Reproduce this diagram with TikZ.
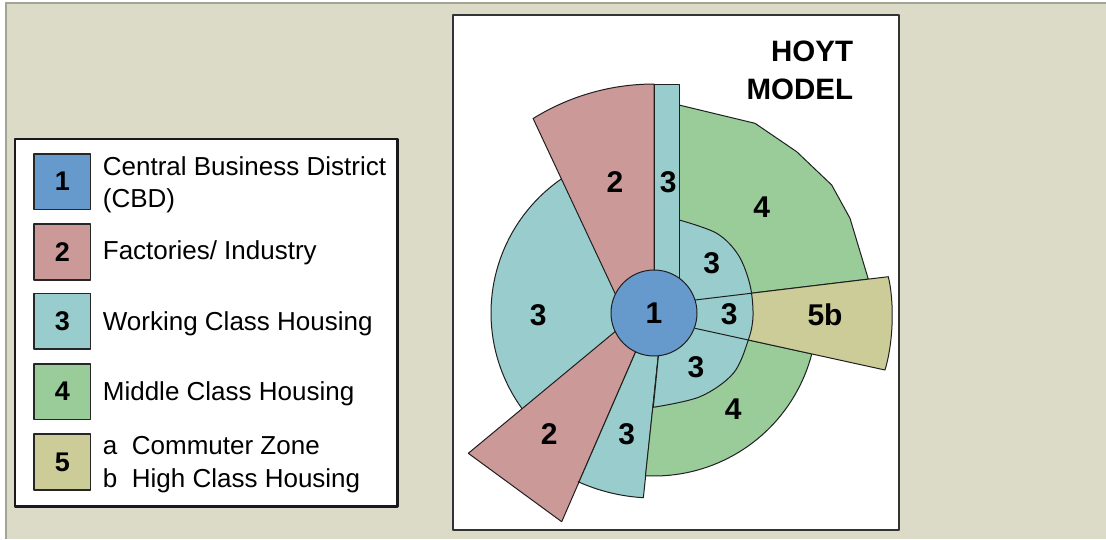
\documentclass[tikz,border=0pt]{standalone}
\usepackage{fontspec}
\setmainfont{Liberation Sans}
\begin{document}
\begin{tikzpicture}[x=1pt,y=-1pt,line join=round]
\definecolor{bg}{HTML}{DBDBC7}
\definecolor{edgegray}{HTML}{A4A494}
\definecolor{cbd}{HTML}{6699CC}
\definecolor{ind}{HTML}{CC9999}
\definecolor{wch}{HTML}{99CCCC}
\definecolor{mch}{HTML}{99CC99}
\definecolor{hch}{HTML}{CCCC99}
\tikzset{
  zone/.style={draw=black!88,line width=1pt},
  num/.style={font=\fontsize{30}{30}\selectfont\bfseries,inner sep=0pt},
  legsq/.style={draw=black!85,line width=1.6pt,minimum width=56.7pt,minimum height=55.5pt,inner sep=0pt,font=\fontsize{27}{27}\selectfont\bfseries},
  legtxt/.style={anchor=base west,inner sep=0pt,font=\fontsize{26}{26}\selectfont},
  ttl/.style={anchor=base east,inner sep=0pt,font=\fontsize{29.5}{29.5}\selectfont\bfseries}
}
\useasboundingbox (0,0) rectangle (1106,539);
% background
\fill[white] (0,0) rectangle (1106,539);
\fill[bg] (5,2) rectangle (1106,539);
\draw[edgegray,line width=1.6pt] (5.8,539) -- (5.8,2.8) -- (1106,2.8);
% legend
\draw[fill=white,draw=black!90,line width=2.6pt] (15,139) rectangle (397.3,506.7);
\node[legsq,fill=cbd] (k1) at (62.3,181.7) {1};
\node[legsq,fill=ind] (k2) at (62.3,252) {2};
\node[legsq,fill=wch] (k3) at (62.3,321.2) {3};
\node[legsq,fill=mch] (k4) at (62.3,391.7) {4};
\node[legsq,fill=hch] (k5) at (62.3,462) {5};
\node[legtxt] (t1a) at (102.7,175.7) {Central Business District};
\node[legtxt] (t1b) at (102.7,207.5) {(CBD)};
\node[legtxt] (t2) at (102.7,259) {Factories/ Industry};
\node[legtxt] (t3) at (102.7,330) {Working Class Housing};
\node[legtxt] (t4) at (102.7,400.7) {Middle Class Housing};
\node[legtxt] (t5a) at (102.7,454) {\makebox[29pt][l]{a}Commuter Zone};
\node[legtxt] (t5b) at (102.7,487.3) {\makebox[29pt][l]{b}High Class Housing};
% panel
\draw[fill=white,draw=black!80,line width=1.6pt] (453,15) rectangle (899,530);
\node[ttl] (hoyt) at (853.3,61.7) {HOYT};
\node[ttl] (model) at (853.3,99.3) {MODEL};
% zones
\filldraw[zone,fill=wch] (654,313) -- plot[domain=140:240,samples=50,variable=\t] ({654+163*cos(\t)},{313+163*sin(\t)}) -- cycle;
\filldraw[zone,fill=ind] (627.3,319.5) -- (533.1,118.5) -- plot[domain=238.1:270,samples=30,variable=\t] ({654+229*cos(\t)},{313+229*sin(\t)}) -- (654,313) -- cycle;
\filldraw[zone,fill=ind] (468.3,453.3) -- (561.7,521.7) -- (646,328) -- (644.3,307.4) -- cycle;
\filldraw[zone,fill=wch] (646,328) -- (579.1,481.7) -- plot[domain=114.2:93.3,samples=20,variable=\t] ({654+185*cos(\t)},{313+185*sin(\t)}) -- (660,340) -- cycle;
\filldraw[zone,fill=mch] (679,105) -- (755,123.3) -- (796.7,151.7) -- (831.7,185) -- (850,218.3) -- (868.3,279.1) -- (695,300) -- (679,300) -- cycle;
\filldraw[zone,fill=mch] (695,328.3) -- plot[domain=14.5:93,samples=40,variable=\t] ({654+163*cos(\t)},{313+163*sin(\t)}) -- (660,340) -- cycle;
\filldraw[zone,fill=hch] (695,300) -- (888.3,276.7) .. controls (894,300) and (894,340) .. (885,370) -- (695,328.3) -- cycle;
\filldraw[zone,fill=wch] (679,300) -- (679.3,220) -- plot[smooth,tension=0.55] coordinates {(679.3,220) (716.7,233.3) (738.3,255) (750,285) (753,316) (748.3,340) (733.3,373.3) (700,396.7) (653.3,407.3)} -- (660,340) -- cycle;
\filldraw[zone,fill=wch] (654,84) rectangle (679,300);
\draw[zone] (695,300) -- (751.7,293.2);
\draw[zone] (695,328.3) -- (748.3,340);
\node[circle,zone,fill=cbd,minimum size=86pt,inner sep=0pt] (cbd) at (654,313) {};
% labels
\node[num] (n1) at (654,313.3) {1};
\node[num] (n2a) at (615,181.7) {2};
\node[num] (n3s) at (668.3,181.7) {3};
\node[num] (n4a) at (761.7,206.7) {4};
\node[num] (n3u) at (711.7,263.3) {3};
\node[num] (n3l) at (538.3,315) {3};
\node[num] (n3m) at (729.3,314) {3};
\node[num] (n5b) at (825,315) {5b};
\node[num] (n3d) at (696,366.7) {3};
\node[num] (n4b) at (733.3,409.3) {4};
\node[num] (n2b) at (549.3,434) {2};
\node[num] (n3b) at (626.7,434) {3};
\end{tikzpicture}
\end{document}
